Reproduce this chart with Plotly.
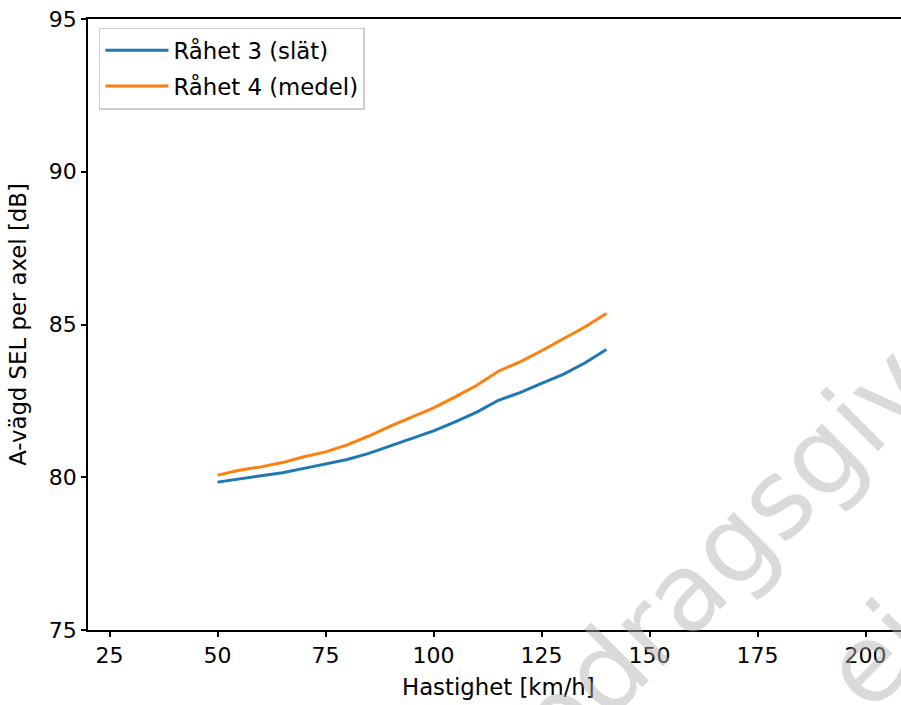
import plotly.graph_objects as go

speed = [50, 55, 60, 65, 70, 75, 80, 85, 90, 95, 100, 105, 110, 115, 120, 125, 130, 135, 140]
sel_smooth = [79.84, 79.95, 80.05, 80.15, 80.29, 80.43, 80.58, 80.78, 81.03, 81.28,
              81.52, 81.81, 82.13, 82.52, 82.77, 83.07, 83.37, 83.74, 84.18]
sel_medium = [80.07, 80.23, 80.34, 80.48, 80.67, 80.83, 81.06, 81.35, 81.67, 81.98,
              82.27, 82.63, 83.01, 83.47, 83.78, 84.14, 84.52, 84.92, 85.36]
series_names = ["Råhet 3 (slät)", "Råhet 4 (medel)"]
x_ticks = [25, 50, 75, 100, 125, 150, 175, 200]
y_ticks = [75, 80, 85, 90, 95]
x_title = "Hastighet [km/h]"
y_title = "A-vägd SEL per axel [dB]"
watermark_lines = ["Uppdragsgivare", "ej"]

FONT = "DejaVu Sans"
W, H = 901, 705
ML, MT, MB, MR = 88, 19, 75, 0
plot_w = W - ML - MR

fig = go.Figure()
fig.add_trace(go.Scatter(x=speed, y=sel_smooth, mode="lines", name=series_names[0],
                         line=dict(color="#1f77b4", width=3), legendgroup="a"))
fig.add_trace(go.Scatter(x=speed, y=sel_medium, mode="lines", name=series_names[1],
                         line=dict(color="#ff7f0e", width=3), legendgroup="b"))

axis_common = dict(showgrid=False, zeroline=False, showline=True, linecolor="black",
                   linewidth=1.6, ticks="outside", ticklen=5, tickwidth=1.6,
                   tickcolor="black", tickfont=dict(family=FONT, size=22, color="black"))

fig.update_layout(
    width=W, height=H,
    margin=dict(l=ML, r=MR, t=MT, b=MB),
    paper_bgcolor="white", plot_bgcolor="white",
    font=dict(family=FONT, size=22.8, color="black"),
    xaxis=dict(range=[20, 20 + plot_w / 4.32], tickvals=x_ticks, mirror=True,
               **axis_common),
    yaxis=dict(range=[75, 95], tickvals=y_ticks,
               title=dict(text=y_title, standoff=16, font=dict(family=FONT, size=22.8)),
               **axis_common),
    legend=dict(x=0.0135, y=0.986, xanchor="left", yanchor="top",
                bgcolor="rgba(255,255,255,0.8)", bordercolor="#cccccc", borderwidth=1.5,
                font=dict(family=FONT, size=22.8), tracegroupgap=3, traceorder="grouped",
                itemwidth=63),
    showlegend=True,
)

fig.add_annotation(text=x_title, xref="paper", yref="paper", x=0.505, y=-0.094,
                   xanchor="center", yanchor="middle", showarrow=False,
                   font=dict(family=FONT, size=22.8, color="black"))

wm_color = "rgba(174,174,174,0.46)"
fig.add_annotation(text=watermark_lines[0], xref="paper", yref="paper", x=0.791, y=0.1375,
                   xanchor="center", yanchor="middle", showarrow=False, textangle=-45,
                   font=dict(family=FONT, size=108, color=wm_color))
fig.add_annotation(text=watermark_lines[1], xref="paper", yref="paper", x=0.969, y=-0.041,
                   xanchor="center", yanchor="middle", showarrow=False, textangle=-45,
                   font=dict(family=FONT, size=108, color=wm_color))

fig.write_html("out.html")
